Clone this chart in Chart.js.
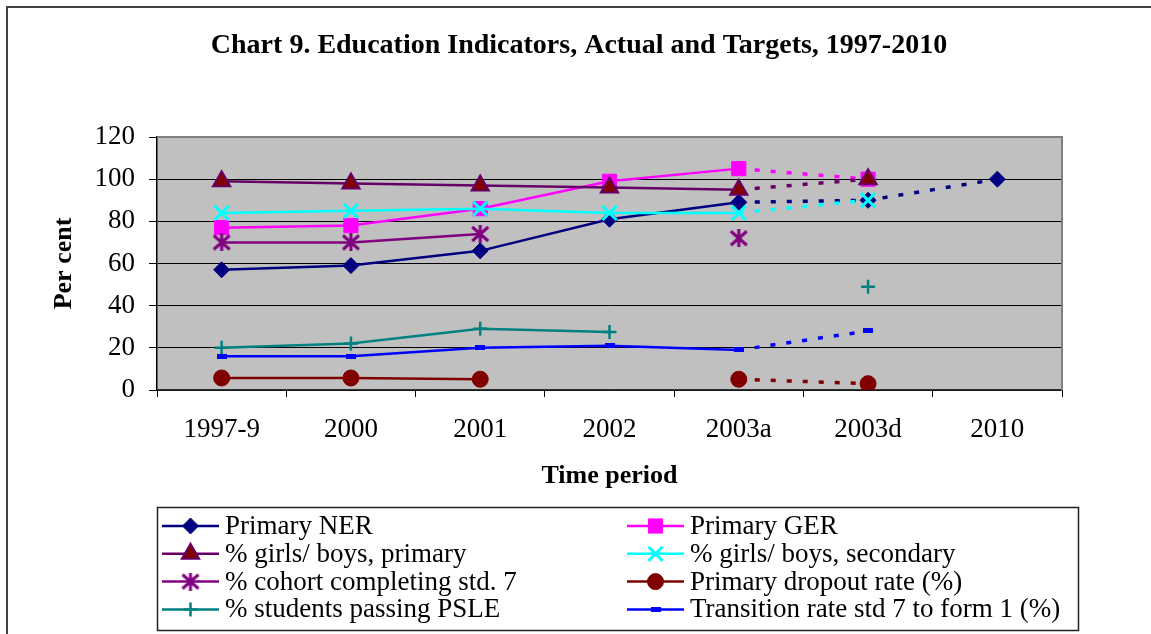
<!DOCTYPE html>
<html><head><meta charset="utf-8">
<script src="https://cdn.jsdelivr.net/npm/chart.js@4.4.1/dist/chart.umd.min.js"></script>
<style>html,body{margin:0;padding:0;background:#fff}canvas{display:block}</style>
</head><body>
<canvas id="c" width="1151" height="634"></canvas>
<script>
// ---------- data ----------
const categories = ['1997-9', '2000', '2001', '2002', '2003a', '2003d', '2010'];
const primaryNER         = [57, 59, 66, 81, 89, 90, 100];
const primaryGER         = [77, 78, 86, 99, 105, 100, null];
const girlsBoysPrimary   = [99, 98, 97, 96, 95, 100, null];
const girlsBoysSecondary = [84, 85, 86, 84, 84, 90, null];
const cohortCompleting   = [70, 70, 74, null, 72, null, null];
const dropoutRate        = [5.7, 5.7, 5.1, null, 5.1, 3, null];
const passingPSLE        = [20, 22, 29, 27.5, null, 49, null];
const transitionRate     = [16, 16, 20, 21, 19, 28, null];
const seriesNames = [
  'Primary NER', 'Primary GER', '% girls/ boys, primary', '% girls/ boys, secondary',
  '% cohort completing std. 7', 'Primary dropout rate (%)', '% students passing PSLE',
  'Transition rate std 7 to form 1 (%)'
];
const yTicks = [0, 20, 40, 60, 80, 100, 120];
const chartTitle = 'Chart 9. Education Indicators, Actual and Targets, 1997-2010';
const targetFrom = '2003a'; // segments after this category are targets (dashed)

// ---------- styles ----------
const FONT = "'Liberation Serif','Times New Roman',serif";
const targetIdx = categories.indexOf(targetFrom);
const DASH = [5, 11];

function asteriskImg(color) {
  const c = document.createElement('canvas'); c.width = 20; c.height = 18;
  const g = c.getContext('2d'); g.strokeStyle = color; g.lineWidth = 3; g.lineCap = 'butt';
  g.beginPath();
  g.moveTo(2, 2); g.lineTo(18, 16);
  g.moveTo(18, 2); g.lineTo(2, 16);
  g.moveTo(10, 0); g.lineTo(10, 18);
  g.stroke();
  return c;
}
function dashImg(color) {
  const c = document.createElement('canvas'); c.width = 10; c.height = 5;
  const g = c.getContext('2d'); g.fillStyle = color; g.fillRect(0, 0, 10, 5);
  return c;
}

function mk(i, data, line, style, radius, fill, border, bw) {
  return {
    label: seriesNames[i], data,
    borderColor: line, backgroundColor: fill,
    borderWidth: 2.5,
    pointStyle: style, pointRadius: radius, pointHoverRadius: radius,
    pointBackgroundColor: fill, pointBorderColor: border, pointBorderWidth: bw,
    order: 10 - i,
    spanGaps: false,
    segment: {
      borderDash: ctx => (ctx.p0DataIndex >= targetIdx ? DASH : undefined),
      borderWidth: ctx => (ctx.p0DataIndex >= targetIdx ? 3.5 : undefined)
    },
    tension: 0
  };
}

const datasets = [
  mk(0, primaryNER, '#000080', 'rectRot', 8, '#000080', '#000080', 1),
  mk(1, primaryGER, '#FF00FF', 'rect', 10, '#FF00FF', '#FF00FF', 1),
  mk(2, girlsBoysPrimary, '#660066', 'triangle', 10, '#800000', '#660066', 2),
  mk(3, girlsBoysSecondary, '#00FFFF', 'crossRot', 10, '#00FFFF', '#00FFFF', 3),
  mk(4, cohortCompleting, '#800080', asteriskImg('#800080'), 9, '#800080', '#800080', 3),
  mk(5, dropoutRate, '#800000', 'circle', 8, '#800000', '#800000', 1),
  mk(6, passingPSLE, '#008080', 'cross', 7, '#008080', '#008080', 2.5),
  mk(7, transitionRate, '#0000FF', dashImg('#0000FF'), 5, '#0000FF', '#0000FF', 1)
];

const framePlugin = {
  id: 'frame',
  beforeDraw(chart) {
    const { ctx, chartArea: a } = chart;
    ctx.save();
    ctx.fillStyle = '#fff'; ctx.fillRect(0, 0, chart.width, chart.height);
    ctx.fillStyle = '#C0C0C0'; ctx.fillRect(a.left, a.top, a.right - a.left, a.bottom - a.top);
    ctx.strokeStyle = '#404040'; ctx.lineWidth = 2;
    ctx.beginPath(); ctx.moveTo(7, chart.height); ctx.lineTo(7, 7); ctx.lineTo(chart.width, 7); ctx.stroke();
    // title
    ctx.fillStyle = '#000'; ctx.font = "bold 28px " + FONT; ctx.textAlign = 'center'; ctx.textBaseline = 'middle';
    ctx.fillText(chartTitle, 579, 46);
    ctx.restore();
  },
  beforeDatasetsDraw(chart) {
    const { ctx, chartArea: a } = chart;
    ctx.save();
    ctx.strokeStyle = '#808080'; ctx.lineWidth = 2;
    ctx.beginPath(); ctx.moveTo(a.left, a.top); ctx.lineTo(a.right, a.top); ctx.lineTo(a.right, a.bottom); ctx.stroke();
    ctx.restore();
  },
  afterDraw(chart) {
    const { ctx } = chart;
    ctx.save();
    // legend box
    ctx.strokeStyle = '#202020'; ctx.lineWidth = 1.5;
    ctx.strokeRect(157.5, 507.5, 921, 123);
    const colX = [162, 627], textX = [225, 690];
    const rowY = [526, 553.8, 581.6, 609.4];
    chart.data.datasets.forEach((ds, i) => {
      const col = i % 2, row = Math.floor(i / 2);
      const x0 = colX[col], y = rowY[row];
      ctx.strokeStyle = ds.borderColor; ctx.lineWidth = 2.5; ctx.setLineDash([]);
      ctx.beginPath(); ctx.moveTo(x0, y); ctx.lineTo(x0 + 57, y); ctx.stroke();
      ctx.fillStyle = ds.pointBackgroundColor; ctx.strokeStyle = ds.pointBorderColor;
      ctx.lineWidth = ds.pointBorderWidth;
      Chart.helpers.drawPoint(ctx, { pointStyle: ds.pointStyle, radius: ds.pointRadius, borderWidth: ds.pointBorderWidth, rotation: 0 }, x0 + 28.5, y);
      ctx.fillStyle = '#000'; ctx.font = "27px " + FONT; ctx.textBaseline = 'middle'; ctx.textAlign = 'left';
      ctx.fillText(ds.label, textX[col], y + 1);
    });
    ctx.restore();
  }
};

new Chart(document.getElementById('c'), {
  type: 'line',
  data: { labels: categories, datasets },
  plugins: [framePlugin],
  options: {
    responsive: false, animation: false,
    layout: { padding: { left: 0, right: 89, top: 137, bottom: 134 } },
    plugins: { legend: { display: false }, tooltip: { enabled: false }, title: { display: false } },
    scales: {
      x: {
        offset: true,
        grid: { offset: true, drawOnChartArea: false, drawTicks: true, tickLength: 7, color: '#000', lineWidth: 1 },
        border: { color: '#303030', width: 1.5 },
        ticks: { color: '#000', font: { family: FONT, size: 27 }, padding: 17, maxRotation: 0, autoSkip: false },
        title: { display: true, text: 'Time period', color: '#000', font: { family: FONT, size: 26, weight: 'bold' }, padding: { top: 0, bottom: 8 } },
        afterFit(s) { s.height = 110; }
      },
      y: {
        min: yTicks[0], max: yTicks[yTicks.length - 1],
        afterBuildTicks(s) { s.ticks = yTicks.map(v => ({ value: v })); },
        grid: { color: '#000', lineWidth: 1, tickLength: 8, drawTicks: true },
        border: { color: '#000', width: 1.5 },
        ticks: { color: '#000', font: { family: FONT, size: 27 }, padding: 14 },
        title: { display: true, text: 'Per cent', color: '#000', font: { family: FONT, size: 26, weight: 'bold' }, padding: { top: 49, bottom: 0 } },
        afterFit(s) { s.width = 157; }
      }
    }
  }
});
</script>
</body></html>
